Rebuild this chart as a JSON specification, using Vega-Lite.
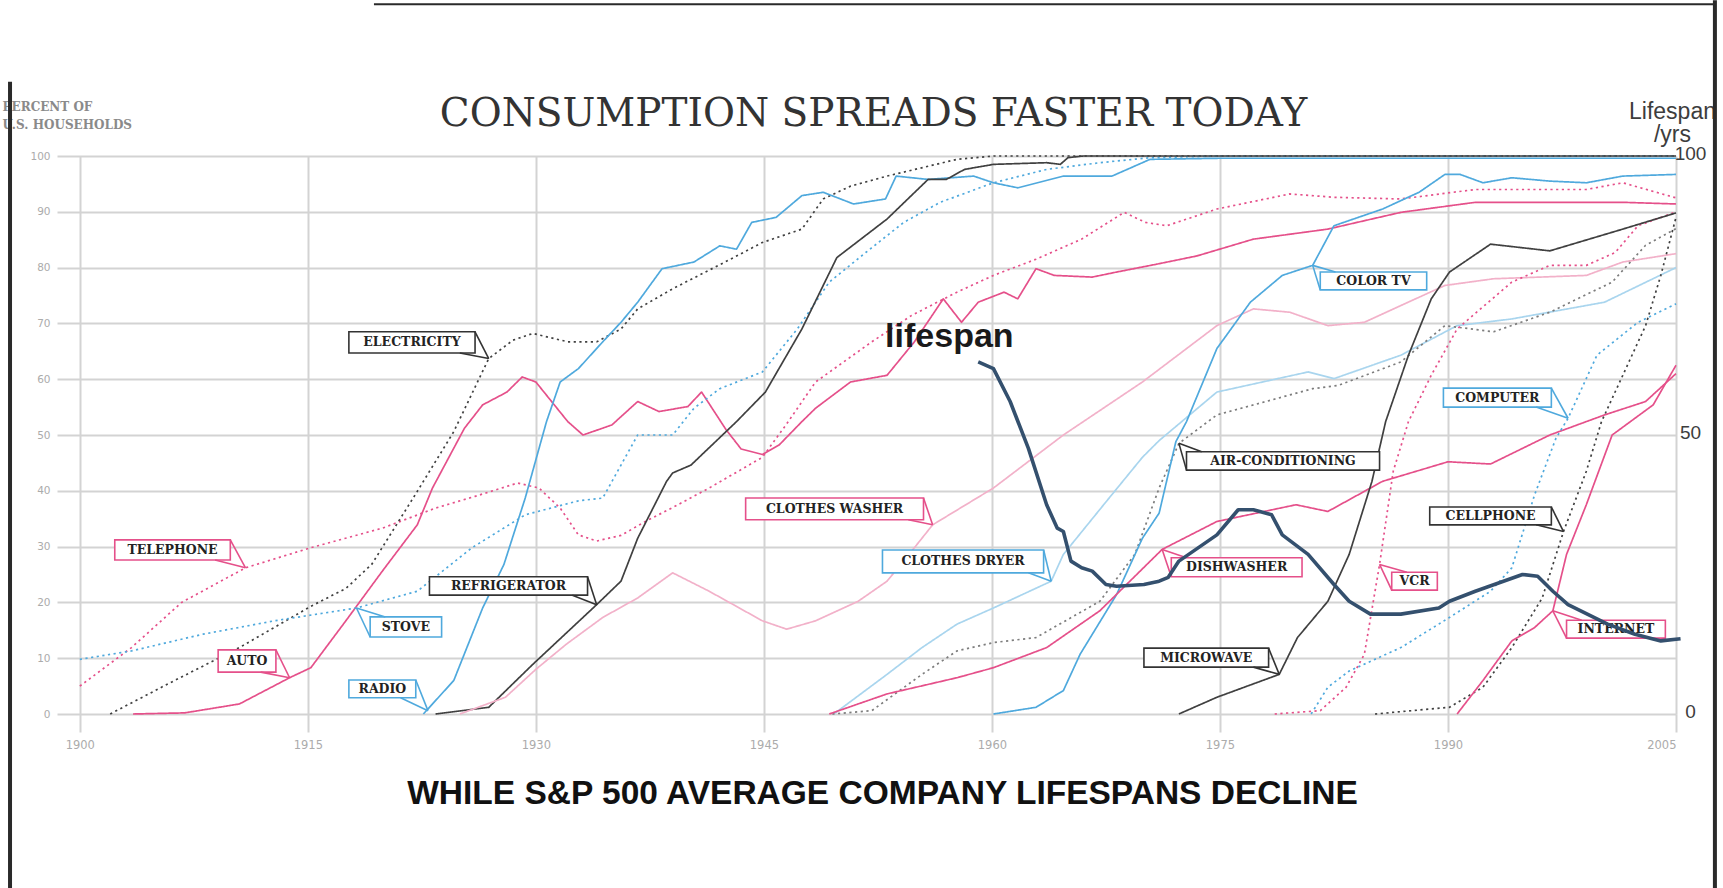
{
  "$schema": "https://vega.github.io/schema/vega-lite/v6.json",
  "width": 1619,
  "height": 558,
  "autosize": {"type": "none"},
  "padding": {"left": 57, "top": 156, "right": 47, "bottom": 174},
  "background": "white",
  "config": {"view": {"stroke": null}},
  "title": {"text": "CONSUMPTION SPREADS FASTER TODAY", "font": "DejaVu Serif", "fontSize": 39, "fontWeight": "normal", "color": "#333333", "anchor": "middle", "frame": "group", "dx": 7, "dy": 146, "offset": 10},
  "datasets": {
    "L": [
      {"s":"Telephone","yr":1900,"v":5},{"s":"Telephone","yr":1903.4,"v":11.9},{"s":"Telephone","yr":1906.7,"v":20},{"s":"Telephone","yr":1910.9,"v":26.2},{"s":"Telephone","yr":1915.2,"v":29.8},{"s":"Telephone","yr":1919.9,"v":33.3},{"s":"Telephone","yr":1923.4,"v":36.9},{"s":"Telephone","yr":1926,"v":39},{"s":"Telephone","yr":1928.8,"v":41.4},{"s":"Telephone","yr":1930.2,"v":40.5},{"s":"Telephone","yr":1931.6,"v":36.9},{"s":"Telephone","yr":1932.8,"v":32.1},{"s":"Telephone","yr":1934,"v":31},{"s":"Telephone","yr":1935.6,"v":32},{"s":"Telephone","yr":1937.2,"v":34.5},{"s":"Telephone","yr":1939,"v":37},{"s":"Telephone","yr":1941.4,"v":40.5},{"s":"Telephone","yr":1944.9,"v":46},{"s":"Telephone","yr":1946.5,"v":52},{"s":"Telephone","yr":1948.4,"v":59.5},{"s":"Telephone","yr":1952.1,"v":66.7},{"s":"Telephone","yr":1954.7,"v":71.4},{"s":"Telephone","yr":1957.7,"v":75.6},{"s":"Telephone","yr":1960.1,"v":78.6},{"s":"Telephone","yr":1962.9,"v":81.5},{"s":"Telephone","yr":1965.9,"v":85.1},{"s":"Telephone","yr":1968.7,"v":89.9},{"s":"Telephone","yr":1970.1,"v":88.1},{"s":"Telephone","yr":1971.5,"v":87.5},{"s":"Telephone","yr":1974.8,"v":90.5},{"s":"Telephone","yr":1979.6,"v":93.2},{"s":"Telephone","yr":1982.5,"v":92.6},{"s":"Telephone","yr":1986.9,"v":92.3},{"s":"Telephone","yr":1991.8,"v":94},{"s":"Telephone","yr":1999.1,"v":94},{"s":"Telephone","yr":2001.5,"v":95.2},{"s":"Telephone","yr":2005,"v":92.5},
      {"s":"Electricity","yr":1902,"v":0},{"s":"Electricity","yr":1905.8,"v":5.4},{"s":"Electricity","yr":1910.5,"v":11.9},{"s":"Electricity","yr":1915.2,"v":19.3},{"s":"Electricity","yr":1917.5,"v":22.5},{"s":"Electricity","yr":1919.2,"v":26.8},{"s":"Electricity","yr":1922.2,"v":39.9},{"s":"Electricity","yr":1924.6,"v":50.6},{"s":"Electricity","yr":1926.9,"v":63.7},{"s":"Electricity","yr":1928.5,"v":67},{"s":"Electricity","yr":1929.8,"v":68.2},{"s":"Electricity","yr":1932.1,"v":66.7},{"s":"Electricity","yr":1934,"v":66.7},{"s":"Electricity","yr":1935.6,"v":69},{"s":"Electricity","yr":1936.7,"v":72.6},{"s":"Electricity","yr":1939,"v":76.2},{"s":"Electricity","yr":1942.8,"v":81.5},{"s":"Electricity","yr":1944.9,"v":84.5},{"s":"Electricity","yr":1947.5,"v":86.9},{"s":"Electricity","yr":1948.9,"v":92.3},{"s":"Electricity","yr":1950.7,"v":94.6},{"s":"Electricity","yr":1953.1,"v":96.4},{"s":"Electricity","yr":1957.7,"v":99.4},{"s":"Electricity","yr":1960.1,"v":100},{"s":"Electricity","yr":2005,"v":100},
      {"s":"Auto","yr":1903.5,"v":0},{"s":"Auto","yr":1906.9,"v":0.2},{"s":"Auto","yr":1910.5,"v":1.8},{"s":"Auto","yr":1913.8,"v":6.5},{"s":"Auto","yr":1915.2,"v":8.3},{"s":"Auto","yr":1917.5,"v":16.7},{"s":"Auto","yr":1919.9,"v":25.6},{"s":"Auto","yr":1922.2,"v":33.9},{"s":"Auto","yr":1923.2,"v":40.5},{"s":"Auto","yr":1925.3,"v":51.2},{"s":"Auto","yr":1926.5,"v":55.4},{"s":"Auto","yr":1928.1,"v":57.7},{"s":"Auto","yr":1929.1,"v":60.4},{"s":"Auto","yr":1930,"v":59.5},{"s":"Auto","yr":1932.1,"v":52.4},{"s":"Auto","yr":1933.1,"v":50},{"s":"Auto","yr":1935,"v":51.8},{"s":"Auto","yr":1936.7,"v":56},{"s":"Auto","yr":1938.1,"v":54.2},{"s":"Auto","yr":1940,"v":55.1},{"s":"Auto","yr":1940.9,"v":57.7},{"s":"Auto","yr":1942.5,"v":51},{"s":"Auto","yr":1943.5,"v":47.5},{"s":"Auto","yr":1944.9,"v":46.5},{"s":"Auto","yr":1946,"v":48.2},{"s":"Auto","yr":1947.5,"v":52.4},{"s":"Auto","yr":1948.4,"v":54.8},{"s":"Auto","yr":1950.7,"v":59.5},{"s":"Auto","yr":1953.1,"v":60.7},{"s":"Auto","yr":1954.9,"v":66.7},{"s":"Auto","yr":1956.8,"v":74.4},{"s":"Auto","yr":1958,"v":70.2},{"s":"Auto","yr":1959.1,"v":73.8},{"s":"Auto","yr":1960.8,"v":75.6},{"s":"Auto","yr":1961.7,"v":74.4},{"s":"Auto","yr":1962.9,"v":79.8},{"s":"Auto","yr":1964.1,"v":78.6},{"s":"Auto","yr":1966.6,"v":78.3},{"s":"Auto","yr":1968.2,"v":79.2},{"s":"Auto","yr":1971,"v":80.7},{"s":"Auto","yr":1973.5,"v":82.1},{"s":"Auto","yr":1977.2,"v":85.1},{"s":"Auto","yr":1982.1,"v":86.9},{"s":"Auto","yr":1986.9,"v":89.9},{"s":"Auto","yr":1991.8,"v":91.7},{"s":"Auto","yr":2001.5,"v":91.7},{"s":"Auto","yr":2005,"v":91.4},
      {"s":"Stove","yr":1900,"v":9.8},{"s":"Stove","yr":1903.4,"v":11.3},{"s":"Stove","yr":1908.1,"v":14.3},{"s":"Stove","yr":1912.8,"v":16.7},{"s":"Stove","yr":1918.2,"v":19},{"s":"Stove","yr":1922.2,"v":22},{"s":"Stove","yr":1925.8,"v":29.8},{"s":"Stove","yr":1929.3,"v":35.7},{"s":"Stove","yr":1932.8,"v":38.2},{"s":"Stove","yr":1934.4,"v":38.7},{"s":"Stove","yr":1935.6,"v":44.6},{"s":"Stove","yr":1936.7,"v":50},{"s":"Stove","yr":1939,"v":50},{"s":"Stove","yr":1940.4,"v":54.8},{"s":"Stove","yr":1942.1,"v":58.3},{"s":"Stove","yr":1944.9,"v":61.3},{"s":"Stove","yr":1947.2,"v":69},{"s":"Stove","yr":1949.3,"v":77.4},{"s":"Stove","yr":1951.7,"v":82.7},{"s":"Stove","yr":1954.2,"v":88.1},{"s":"Stove","yr":1956.6,"v":91.7},{"s":"Stove","yr":1960.1,"v":95.2},{"s":"Stove","yr":1963.6,"v":97.6},{"s":"Stove","yr":1967.1,"v":98.8},{"s":"Stove","yr":1970.4,"v":99.7},{"s":"Stove","yr":1975,"v":100},{"s":"Stove","yr":2005,"v":100},
      {"s":"Radio","yr":1922.6,"v":0},{"s":"Radio","yr":1924.6,"v":6},{"s":"Radio","yr":1926.5,"v":19},{"s":"Radio","yr":1927.9,"v":26.8},{"s":"Radio","yr":1929.3,"v":38.7},{"s":"Radio","yr":1930.7,"v":52.4},{"s":"Radio","yr":1931.6,"v":59.5},{"s":"Radio","yr":1932.8,"v":61.9},{"s":"Radio","yr":1934.4,"v":66.7},{"s":"Radio","yr":1935.6,"v":70.2},{"s":"Radio","yr":1936.7,"v":73.8},{"s":"Radio","yr":1938.3,"v":79.8},{"s":"Radio","yr":1940.4,"v":81},{"s":"Radio","yr":1942.1,"v":83.9},{"s":"Radio","yr":1943.2,"v":83.3},{"s":"Radio","yr":1944.2,"v":88.1},{"s":"Radio","yr":1945.8,"v":89},{"s":"Radio","yr":1947.5,"v":92.9},{"s":"Radio","yr":1948.9,"v":93.5},{"s":"Radio","yr":1950.9,"v":91.4},{"s":"Radio","yr":1953,"v":92.3},{"s":"Radio","yr":1953.7,"v":96.4},{"s":"Radio","yr":1955.8,"v":95.8},{"s":"Radio","yr":1958.8,"v":96.4},{"s":"Radio","yr":1960.1,"v":95.2},{"s":"Radio","yr":1961.7,"v":94.3},{"s":"Radio","yr":1964.7,"v":96.4},{"s":"Radio","yr":1967.9,"v":96.4},{"s":"Radio","yr":1970.4,"v":99.4},{"s":"Radio","yr":1975,"v":99.6},{"s":"Radio","yr":2005,"v":99.6},
      {"s":"Refrigerator","yr":1923.4,"v":0},{"s":"Refrigerator","yr":1926.9,"v":1.2},{"s":"Refrigerator","yr":1929.8,"v":8.9},{"s":"Refrigerator","yr":1934,"v":19.6},{"s":"Refrigerator","yr":1935.6,"v":23.8},{"s":"Refrigerator","yr":1936.7,"v":31.5},{"s":"Refrigerator","yr":1938.6,"v":41.7},{"s":"Refrigerator","yr":1939,"v":43.2},{"s":"Refrigerator","yr":1940.2,"v":44.6},{"s":"Refrigerator","yr":1943.2,"v":52.4},{"s":"Refrigerator","yr":1945.1,"v":57.7},{"s":"Refrigerator","yr":1947.5,"v":69},{"s":"Refrigerator","yr":1949.8,"v":81.8},{"s":"Refrigerator","yr":1953.1,"v":88.7},{"s":"Refrigerator","yr":1955.8,"v":95.8},{"s":"Refrigerator","yr":1957,"v":95.8},{"s":"Refrigerator","yr":1958.2,"v":97.6},{"s":"Refrigerator","yr":1960.1,"v":98.5},{"s":"Refrigerator","yr":1963.6,"v":98.8},{"s":"Refrigerator","yr":1964.5,"v":98.5},{"s":"Refrigerator","yr":1965,"v":99.7},{"s":"Refrigerator","yr":1966,"v":100},{"s":"Refrigerator","yr":2005,"v":100},
      {"s":"Clothes washer","yr":1925,"v":0},{"s":"Clothes washer","yr":1928,"v":3},{"s":"Clothes washer","yr":1930,"v":8},{"s":"Clothes washer","yr":1932,"v":12.5},{"s":"Clothes washer","yr":1934.4,"v":17.3},{"s":"Clothes washer","yr":1936.7,"v":20.8},{"s":"Clothes washer","yr":1939,"v":25.3},{"s":"Clothes washer","yr":1941.4,"v":22},{"s":"Clothes washer","yr":1944.9,"v":16.7},{"s":"Clothes washer","yr":1946.5,"v":15.2},{"s":"Clothes washer","yr":1948.4,"v":16.7},{"s":"Clothes washer","yr":1951.2,"v":20.2},{"s":"Clothes washer","yr":1953.1,"v":23.8},{"s":"Clothes washer","yr":1954.9,"v":29.8},{"s":"Clothes washer","yr":1956.1,"v":33.9},{"s":"Clothes washer","yr":1960.1,"v":40.5},{"s":"Clothes washer","yr":1964.7,"v":50},{"s":"Clothes washer","yr":1969.9,"v":59.5},{"s":"Clothes washer","yr":1974.8,"v":69.6},{"s":"Clothes washer","yr":1977.2,"v":72.6},{"s":"Clothes washer","yr":1979.6,"v":72},{"s":"Clothes washer","yr":1982.1,"v":69.6},{"s":"Clothes washer","yr":1984.5,"v":70.2},{"s":"Clothes washer","yr":1986.9,"v":73.2},{"s":"Clothes washer","yr":1989.8,"v":76.8},{"s":"Clothes washer","yr":1993,"v":78},{"s":"Clothes washer","yr":1999.1,"v":78.6},{"s":"Clothes washer","yr":2001.5,"v":81},{"s":"Clothes washer","yr":2005,"v":82.5},
      {"s":"Clothes dryer","yr":1949.6,"v":0},{"s":"Clothes dryer","yr":1953.1,"v":7.1},{"s":"Clothes dryer","yr":1955.4,"v":11.9},{"s":"Clothes dryer","yr":1957.7,"v":16.1},{"s":"Clothes dryer","yr":1960.1,"v":19},{"s":"Clothes dryer","yr":1963.9,"v":23.8},{"s":"Clothes dryer","yr":1964.7,"v":28.6},{"s":"Clothes dryer","yr":1967.5,"v":38},{"s":"Clothes dryer","yr":1969.9,"v":46},{"s":"Clothes dryer","yr":1971,"v":49},{"s":"Clothes dryer","yr":1974.8,"v":57.7},{"s":"Clothes dryer","yr":1980.8,"v":61.3},{"s":"Clothes dryer","yr":1982.5,"v":60.1},{"s":"Clothes dryer","yr":1986.9,"v":64.3},{"s":"Clothes dryer","yr":1990.6,"v":69.6},{"s":"Clothes dryer","yr":1994.2,"v":70.8},{"s":"Clothes dryer","yr":2000.3,"v":73.8},{"s":"Clothes dryer","yr":2005,"v":80},
      {"s":"Air-conditioning","yr":1949.5,"v":0},{"s":"Air-conditioning","yr":1952.1,"v":0.6},{"s":"Air-conditioning","yr":1955.4,"v":7.1},{"s":"Air-conditioning","yr":1957.7,"v":11.3},{"s":"Air-conditioning","yr":1960.1,"v":12.8},{"s":"Air-conditioning","yr":1962.9,"v":13.7},{"s":"Air-conditioning","yr":1967.1,"v":20.2},{"s":"Air-conditioning","yr":1969.4,"v":28.6},{"s":"Air-conditioning","yr":1971,"v":40.5},{"s":"Air-conditioning","yr":1972.3,"v":48.5},{"s":"Air-conditioning","yr":1974.8,"v":53.6},{"s":"Air-conditioning","yr":1981.1,"v":58.3},{"s":"Air-conditioning","yr":1982.8,"v":58.9},{"s":"Air-conditioning","yr":1986.9,"v":63.1},{"s":"Air-conditioning","yr":1989.8,"v":69.6},{"s":"Air-conditioning","yr":1993,"v":68.5},{"s":"Air-conditioning","yr":1996.7,"v":72},{"s":"Air-conditioning","yr":2000.8,"v":77.4},{"s":"Air-conditioning","yr":2003,"v":84},{"s":"Air-conditioning","yr":2005,"v":87},
      {"s":"Color TV","yr":1960.1,"v":0},{"s":"Color TV","yr":1962.9,"v":1.2},{"s":"Color TV","yr":1964.7,"v":4.2},{"s":"Color TV","yr":1965.8,"v":10.7},{"s":"Color TV","yr":1968.2,"v":21.4},{"s":"Color TV","yr":1969.9,"v":31.5},{"s":"Color TV","yr":1971,"v":36},{"s":"Color TV","yr":1972.1,"v":48.8},{"s":"Color TV","yr":1972.8,"v":52.4},{"s":"Color TV","yr":1974.8,"v":65.5},{"s":"Color TV","yr":1977,"v":73.8},{"s":"Color TV","yr":1979.1,"v":78.6},{"s":"Color TV","yr":1981.1,"v":80.4},{"s":"Color TV","yr":1982.5,"v":87.5},{"s":"Color TV","yr":1985.7,"v":90.5},{"s":"Color TV","yr":1988.1,"v":93.5},{"s":"Color TV","yr":1989.8,"v":96.7},{"s":"Color TV","yr":1990.8,"v":96.7},{"s":"Color TV","yr":1992.3,"v":95.2},{"s":"Color TV","yr":1994.2,"v":96.1},{"s":"Color TV","yr":1996.7,"v":95.5},{"s":"Color TV","yr":1999.1,"v":95.2},{"s":"Color TV","yr":2001.5,"v":96.4},{"s":"Color TV","yr":2005,"v":96.7},
      {"s":"Dishwasher","yr":1949.3,"v":0},{"s":"Dishwasher","yr":1953.1,"v":3.6},{"s":"Dishwasher","yr":1957.7,"v":6.5},{"s":"Dishwasher","yr":1960.1,"v":8.3},{"s":"Dishwasher","yr":1963.6,"v":11.9},{"s":"Dishwasher","yr":1967.1,"v":18.5},{"s":"Dishwasher","yr":1971.2,"v":29.5},{"s":"Dishwasher","yr":1974.8,"v":34.5},{"s":"Dishwasher","yr":1980,"v":37.5},{"s":"Dishwasher","yr":1982.1,"v":36.3},{"s":"Dishwasher","yr":1985.7,"v":41.7},{"s":"Dishwasher","yr":1990,"v":45.2},{"s":"Dishwasher","yr":1992.8,"v":44.8},{"s":"Dishwasher","yr":1996.7,"v":50},{"s":"Dishwasher","yr":2000.3,"v":53.6},{"s":"Dishwasher","yr":2003,"v":56},{"s":"Dishwasher","yr":2005,"v":61},
      {"s":"VCR","yr":1978.6,"v":0},{"s":"VCR","yr":1981.6,"v":0.6},{"s":"VCR","yr":1983.3,"v":4.8},{"s":"VCR","yr":1984.5,"v":10.7},{"s":"VCR","yr":1985.5,"v":26.8},{"s":"VCR","yr":1986.4,"v":43.5},{"s":"VCR","yr":1987.4,"v":52.4},{"s":"VCR","yr":1988.9,"v":60.7},{"s":"VCR","yr":1990.6,"v":69},{"s":"VCR","yr":1994.2,"v":77.4},{"s":"VCR","yr":1996.7,"v":80.4},{"s":"VCR","yr":1999.1,"v":80.4},{"s":"VCR","yr":2001,"v":82.7},{"s":"VCR","yr":2002.5,"v":87.5},{"s":"VCR","yr":2005,"v":90},
      {"s":"Microwave","yr":1972.3,"v":0},{"s":"Microwave","yr":1974.8,"v":3},{"s":"Microwave","yr":1978.9,"v":7.1},{"s":"Microwave","yr":1980.1,"v":13.7},{"s":"Microwave","yr":1982.1,"v":20.2},{"s":"Microwave","yr":1983.5,"v":28.6},{"s":"Microwave","yr":1985,"v":41.7},{"s":"Microwave","yr":1985.9,"v":52.4},{"s":"Microwave","yr":1987.4,"v":64.3},{"s":"Microwave","yr":1988.9,"v":74.4},{"s":"Microwave","yr":1990.1,"v":79.2},{"s":"Microwave","yr":1992.8,"v":84.2},{"s":"Microwave","yr":1996.7,"v":83},{"s":"Microwave","yr":2001.5,"v":86.9},{"s":"Microwave","yr":2005,"v":89.8},
      {"s":"Computer","yr":1981,"v":0},{"s":"Computer","yr":1982.1,"v":4.8},{"s":"Computer","yr":1983.5,"v":7.7},{"s":"Computer","yr":1986.9,"v":11.9},{"s":"Computer","yr":1990.1,"v":17.3},{"s":"Computer","yr":1992.8,"v":22},{"s":"Computer","yr":1994.2,"v":26.2},{"s":"Computer","yr":1995.7,"v":39.3},{"s":"Computer","yr":1997.1,"v":49.4},{"s":"Computer","yr":1997.9,"v":53},{"s":"Computer","yr":1999.8,"v":64.3},{"s":"Computer","yr":2002.5,"v":70.2},{"s":"Computer","yr":2005,"v":73.5},
      {"s":"Cellphone","yr":1985.2,"v":0},{"s":"Cellphone","yr":1990.1,"v":1.2},{"s":"Cellphone","yr":1992.3,"v":4.8},{"s":"Cellphone","yr":1994.2,"v":11.9},{"s":"Cellphone","yr":1996.2,"v":20.8},{"s":"Cellphone","yr":1997.6,"v":32.7},{"s":"Cellphone","yr":1999.1,"v":43.5},{"s":"Cellphone","yr":2000.1,"v":52.4},{"s":"Cellphone","yr":2001.5,"v":60.7},{"s":"Cellphone","yr":2003,"v":69.6},{"s":"Cellphone","yr":2004,"v":78.6},{"s":"Cellphone","yr":2005,"v":89},
      {"s":"Internet","yr":1990.6,"v":0},{"s":"Internet","yr":1992.3,"v":6},{"s":"Internet","yr":1994.2,"v":13.1},{"s":"Internet","yr":1995.7,"v":15.5},{"s":"Internet","yr":1996.9,"v":18.5},{"s":"Internet","yr":1997.8,"v":28.6},{"s":"Internet","yr":1999.1,"v":37.5},{"s":"Internet","yr":2000.8,"v":50},{"s":"Internet","yr":2003.5,"v":55.4},{"s":"Internet","yr":2005,"v":62.5}
    ],
    "LS": [
      {"yr":1959.1,"yrs":63.1},{"yr":1960.1,"yrs":61.9},{"yr":1961.2,"yrs":56},{"yr":1962.4,"yrs":47.6},{"yr":1963.6,"yrs":37.5},{"yr":1964.3,"yrs":33.3},{"yr":1964.7,"yrs":32.7},{"yr":1965.2,"yrs":27.4},{"yr":1965.9,"yrs":26.2},{"yr":1966.6,"yrs":25.6},{"yr":1967.5,"yrs":23.2},{"yr":1968.2,"yrs":22.9},{"yr":1970,"yrs":23.2},{"yr":1971,"yrs":23.8},{"yr":1971.6,"yrs":24.5},{"yr":1972.3,"yrs":27.4},{"yr":1974.8,"yrs":32.1},{"yr":1976.2,"yrs":36.6},{"yr":1977.2,"yrs":36.6},{"yr":1978.4,"yrs":35.7},{"yr":1979.1,"yrs":32.1},{"yr":1980.8,"yrs":28.6},{"yr":1982.5,"yrs":23.2},{"yr":1983.5,"yrs":20.2},{"yr":1984.9,"yrs":17.9},{"yr":1986.9,"yrs":17.9},{"yr":1989.4,"yrs":19},{"yr":1990.1,"yrs":20.2},{"yr":1991.8,"yrs":22},{"yr":1994.9,"yrs":25},{"yr":1995.9,"yrs":24.7},{"yr":1996.9,"yrs":22},{"yr":1997.9,"yrs":19.6},{"yr":1999.6,"yrs":17.3},{"yr":2000.5,"yrs":16.1},{"yr":2002.3,"yrs":14.3},{"yr":2004,"yrs":13.1},{"yr":2005.3,"yrs":13.5}
    ],
    "LB": [
      {"lab":"TELEPHONE","c":"pink","x1":1902.3,"x2":1909.9,"yb":27.6,"yt":31.2,"tx":1906.1,"ty":29.4,"ax":1909.9,"ay":31.2,"bx":1908.9,"by":27.6,"px":1910.9,"py":26.2},
      {"lab":"AUTO","c":"pink","x1":1909.1,"x2":1912.9,"yb":7.5,"yt":11.5,"tx":1911,"ty":9.5,"ax":1912.9,"ay":11.5,"bx":1911.9,"by":7.5,"px":1913.8,"py":6.5},
      {"lab":"STOVE","c":"blue","x1":1919.1,"x2":1923.8,"yb":13.8,"yt":17.4,"tx":1921.45,"ty":15.6,"ax":1919.1,"ay":13.8,"bx":1920.1,"by":17.4,"px":1918.2,"py":19},
      {"lab":"RADIO","c":"blue","x1":1917.7,"x2":1922.1,"yb":2.9,"yt":6.1,"tx":1919.9,"ty":4.5,"ax":1922.1,"ay":6.1,"bx":1921.1,"by":2.9,"px":1922.9,"py":0.6},
      {"lab":"REFRIGERATOR","c":"black","x1":1923,"x2":1933.4,"yb":21.3,"yt":24.6,"tx":1928.2,"ty":22.95,"ax":1933.4,"ay":24.6,"bx":1932.4,"by":21.3,"px":1934,"py":19.6},
      {"lab":"ELECTRICITY","c":"black","x1":1917.7,"x2":1926,"yb":64.7,"yt":68.5,"tx":1921.85,"ty":66.6,"ax":1926,"ay":68.5,"bx":1925,"by":64.7,"px":1926.9,"py":63.7},
      {"lab":"CLOTHES WASHER","c":"pink","x1":1943.8,"x2":1955.5,"yb":34.8,"yt":38.7,"tx":1949.65,"ty":36.75,"ax":1955.5,"ay":38.7,"bx":1954.5,"by":34.8,"px":1956.1,"py":33.9},
      {"lab":"CLOTHES DRYER","c":"blue","x1":1952.8,"x2":1963.4,"yb":25.3,"yt":29.4,"tx":1958.1,"ty":27.35,"ax":1963.4,"ay":29.4,"bx":1962.4,"by":25.3,"px":1963.9,"py":23.8},
      {"lab":"AIR-CONDITIONING","c":"black","x1":1972.8,"x2":1985.5,"yb":43.7,"yt":47,"tx":1979.15,"ty":45.35,"ax":1972.8,"ay":43.7,"bx":1973.8,"by":47,"px":1972.3,"py":48.5},
      {"lab":"COLOR TV","c":"blue","x1":1981.6,"x2":1988.6,"yb":76,"yt":79.2,"tx":1985.1,"ty":77.6,"ax":1981.6,"ay":76,"bx":1982.6,"by":79.2,"px":1981.1,"py":80.4},
      {"lab":"COMPUTER","c":"blue","x1":1989.7,"x2":1996.8,"yb":55,"yt":58.4,"tx":1993.25,"ty":56.7,"ax":1996.8,"ay":58.4,"bx":1995.8,"by":55,"px":1997.9,"py":53},
      {"lab":"DISHWASHER","c":"pink","x1":1971.8,"x2":1980.4,"yb":24.6,"yt":28,"tx":1976.1,"ty":26.3,"ax":1971.8,"ay":24.6,"bx":1972.8,"by":28,"px":1971.2,"py":29.5},
      {"lab":"VCR","c":"pink","x1":1986.3,"x2":1989.3,"yb":22.2,"yt":25.4,"tx":1987.8,"ty":23.8,"ax":1986.3,"ay":22.2,"bx":1987.3,"by":25.4,"px":1985.5,"py":26.8},
      {"lab":"MICROWAVE","c":"black","x1":1970,"x2":1978.2,"yb":8.4,"yt":11.8,"tx":1974.1,"ty":10.1,"ax":1978.2,"ay":11.8,"bx":1977.2,"by":8.4,"px":1978.9,"py":7.1},
      {"lab":"CELLPHONE","c":"black","x1":1988.8,"x2":1996.8,"yb":33.9,"yt":37.1,"tx":1992.8,"ty":35.5,"ax":1996.8,"ay":37.1,"bx":1995.8,"by":33.9,"px":1997.6,"py":32.7},
      {"lab":"INTERNET","c":"pink","x1":1997.8,"x2":2004.3,"yb":13.6,"yt":16.8,"tx":2001.05,"ty":15.2,"ax":1997.8,"ay":13.6,"bx":1998.8,"by":16.8,"px":1996.9,"py":18.5}
    ]
  },
  "resolve": {"scale": {"y": "independent"}, "axis": {"x": "independent"}},
  "layer": [
    {
      "data": {"name": "L"},
      "mark": {"type": "line", "strokeJoin": "round"},
      "encoding": {
        "x": {"field": "yr", "type": "quantitative", "scale": {"domain": [1898.5, 2005], "nice": false, "zero": false},
          "axis": {"values": [1900,1915,1930,1945,1960,1975,1990,2005], "format": "d", "grid": true, "gridColor": "#d3d3d3", "gridWidth": 2, "domain": false, "tickSize": 18, "tickColor": "#d3d3d3", "tickWidth": 2, "labelFont": "DejaVu Sans", "labelFontSize": 11.5, "labelColor": "#ababab", "labelPadding": 7,
            "title": "WHILE S&P 500 AVERAGE COMPANY LIFESPANS DECLINE", "titleFont": "Liberation Sans", "titleFontSize": 33.5, "titleFontWeight": "bold", "titleColor": "#111111", "titleX": 825, "titleY": 79, "titleBaseline": "middle", "titleAlign": "center"}},
        "y": {"field": "v", "type": "quantitative", "scale": {"domain": [0, 100], "nice": false},
          "axis": {"values": [0,10,20,30,40,50,60,70,80,90,100], "grid": true, "gridColor": "#d3d3d3", "gridWidth": 2, "domain": false, "ticks": false, "labelPadding": 7, "labelFont": "DejaVu Sans", "labelFontSize": 10.5, "labelColor": "#ababab",
            "title": ["PERCENT OF", "U.S. HOUSEHOLDS"], "titleAngle": 0, "titleAlign": "left", "titleBaseline": "alphabetic", "titleX": -55, "titleY": -46, "titleFont": "DejaVu Serif", "titleFontSize": 12, "titleFontWeight": "bold", "titleColor": "#8a8a8a", "titleLineHeight": 18}},
        "color": {"field": "s", "type": "nominal", "legend": null,
          "scale": {"domain": ["Clothes washer","Clothes dryer","Air-conditioning","Telephone","Electricity","Auto","Stove","Radio","Refrigerator","Color TV","Dishwasher","VCR","Microwave","Computer","Cellphone","Internet"],
                    "range": ["#f2b1c9","#a9d5ee","#7d7d7d","#e5508a","#404040","#e5508a","#4fa9dd","#4fa9dd","#404040","#4fa9dd","#e5508a","#e5508a","#404040","#4fa9dd","#404040","#e5508a"]}},
        "strokeDash": {"field": "s", "type": "nominal", "legend": null,
          "scale": {"domain": ["Clothes washer","Clothes dryer","Air-conditioning","Telephone","Electricity","Auto","Stove","Radio","Refrigerator","Color TV","Dishwasher","VCR","Microwave","Computer","Cellphone","Internet"],
                    "range": [[1,0],[1,0],[2.2,3.5],[2.2,3.5],[2.2,3.5],[1,0],[2.2,3.5],[1,0],[1,0],[1,0],[1,0],[2.2,3.5],[1,0],[2.2,3.5],[2.2,3.5],[1,0]]}},
        "strokeWidth": {"field": "s", "type": "nominal", "legend": null,
          "scale": {"domain": ["Clothes washer","Clothes dryer","Air-conditioning","Telephone","Electricity","Auto","Stove","Radio","Refrigerator","Color TV","Dishwasher","VCR","Microwave","Computer","Cellphone","Internet"],
                    "range": [1.7,1.7,2.4,2.8,2.8,2.2,2.6,2.2,2.2,2.2,2.2,2.8,2.2,2.6,2.8,2.2]}}
      }
    },
    {
      "data": {"name": "LB"},
      "mark": {"type": "rect", "fill": "white", "strokeWidth": 1.6},
      "encoding": {
        "x": {"field": "x1", "type": "quantitative", "scale": {"domain": [1898.5, 2005], "nice": false, "zero": false}, "axis": null},
        "x2": {"field": "x2"},
        "y": {"field": "yb", "type": "quantitative", "scale": {"domain": [0, 100], "nice": false}, "axis": null},
        "y2": {"field": "yt"},
        "stroke": {"field": "c", "type": "nominal", "legend": null, "scale": {"domain": ["pink","blue","black"], "range": ["#e5508a","#4fa9dd","#333333"]}}
      }
    },
    {
      "data": {"name": "LB"},
      "mark": {"type": "rule", "strokeWidth": 1.6},
      "encoding": {
        "x": {"field": "ax", "type": "quantitative", "scale": {"domain": [1898.5, 2005], "nice": false, "zero": false}, "axis": null},
        "x2": {"field": "px"},
        "y": {"field": "ay", "type": "quantitative", "scale": {"domain": [0, 100], "nice": false}, "axis": null},
        "y2": {"field": "py"},
        "stroke": {"field": "c", "type": "nominal", "legend": null, "scale": {"domain": ["pink","blue","black"], "range": ["#e5508a","#4fa9dd","#333333"]}}
      }
    },
    {
      "data": {"name": "LB"},
      "mark": {"type": "rule", "strokeWidth": 1.6},
      "encoding": {
        "x": {"field": "bx", "type": "quantitative", "scale": {"domain": [1898.5, 2005], "nice": false, "zero": false}, "axis": null},
        "x2": {"field": "px"},
        "y": {"field": "by", "type": "quantitative", "scale": {"domain": [0, 100], "nice": false}, "axis": null},
        "y2": {"field": "py"},
        "stroke": {"field": "c", "type": "nominal", "legend": null, "scale": {"domain": ["pink","blue","black"], "range": ["#e5508a","#4fa9dd","#333333"]}}
      }
    },
    {
      "data": {"name": "LB"},
      "mark": {"type": "text", "font": "DejaVu Serif", "fontSize": 12.5, "fontWeight": "bold", "color": "#222222", "align": "center", "baseline": "middle"},
      "encoding": {
        "x": {"field": "tx", "type": "quantitative", "scale": {"domain": [1898.5, 2005], "nice": false, "zero": false}, "axis": null},
        "y": {"field": "ty", "type": "quantitative", "scale": {"domain": [0, 100], "nice": false}, "axis": null},
        "text": {"field": "lab"}
      }
    },
    {
      "data": {"name": "LS"},
      "mark": {"type": "line", "color": "#34506e", "strokeWidth": 3.6, "strokeJoin": "round"},
      "encoding": {
        "x": {"field": "yr", "type": "quantitative", "scale": {"domain": [1898.5, 2005], "nice": false, "zero": false}, "axis": null},
        "y": {"field": "yrs", "type": "quantitative", "scale": {"domain": [0, 100], "nice": false},
          "axis": {"orient": "right", "values": [0, 50, 100], "grid": false, "domain": false, "ticks": false, "labelPadding": 14, "labelAlign": "center", "labelOffset": -3, "labelFont": "Liberation Sans", "labelFontSize": 19, "labelColor": "#3d3d3d",
            "title": ["Lifespan", "/yrs"], "titleAngle": 0, "titleAlign": "center", "titleBaseline": "alphabetic", "titleX": -4, "titleY": -38, "titleFont": "Liberation Sans", "titleFontSize": 23, "titleFontWeight": "normal", "titleColor": "#3d3d3d", "titleLineHeight": 23}}
      }
    },
    {
      "data": {"values": [{"t": "lifespan"}]},
      "mark": {"type": "text", "font": "Liberation Sans", "fontSize": 34, "fontWeight": "bold", "color": "#1a1a1a", "align": "center", "baseline": "middle"},
      "encoding": {
        "x": {"datum": 1957.2, "type": "quantitative", "scale": {"domain": [1898.5, 2005], "nice": false, "zero": false}, "axis": null},
        "y": {"datum": 67.5, "type": "quantitative", "scale": {"domain": [0, 100], "nice": false}, "axis": null},
        "text": {"field": "t"}
      }
    },
    {
      "data": {"values": [{"f": "left"}]},
      "mark": {"type": "rule", "color": "#2a2a2a", "strokeWidth": 4},
      "encoding": {
        "x": {"datum": 1895.41, "type": "quantitative", "scale": {"domain": [1898.5, 2005], "nice": false, "zero": false}, "axis": null},
        "y": {"datum": 113.3, "type": "quantitative", "scale": {"domain": [0, 100], "nice": false}, "axis": null},
        "y2": {"datum": -31.2}
      }
    },
    {
      "data": {"values": [{"f": "right"}]},
      "mark": {"type": "rule", "color": "#2a2a2a", "strokeWidth": 4},
      "encoding": {
        "x": {"datum": 2007.56, "type": "quantitative", "scale": {"domain": [1898.5, 2005], "nice": false, "zero": false}, "axis": null},
        "y": {"datum": 127.9, "type": "quantitative", "scale": {"domain": [0, 100], "nice": false}, "axis": null},
        "y2": {"datum": -31.2}
      }
    },
    {
      "data": {"values": [{"f": "top"}]},
      "mark": {"type": "rule", "color": "#2a2a2a", "strokeWidth": 2},
      "encoding": {
        "x": {"datum": 1919.35, "type": "quantitative", "scale": {"domain": [1898.5, 2005], "nice": false, "zero": false}, "axis": null},
        "x2": {"datum": 2007.56},
        "y": {"datum": 127.2, "type": "quantitative", "scale": {"domain": [0, 100], "nice": false}, "axis": null}
      }
    }
  ]
}
